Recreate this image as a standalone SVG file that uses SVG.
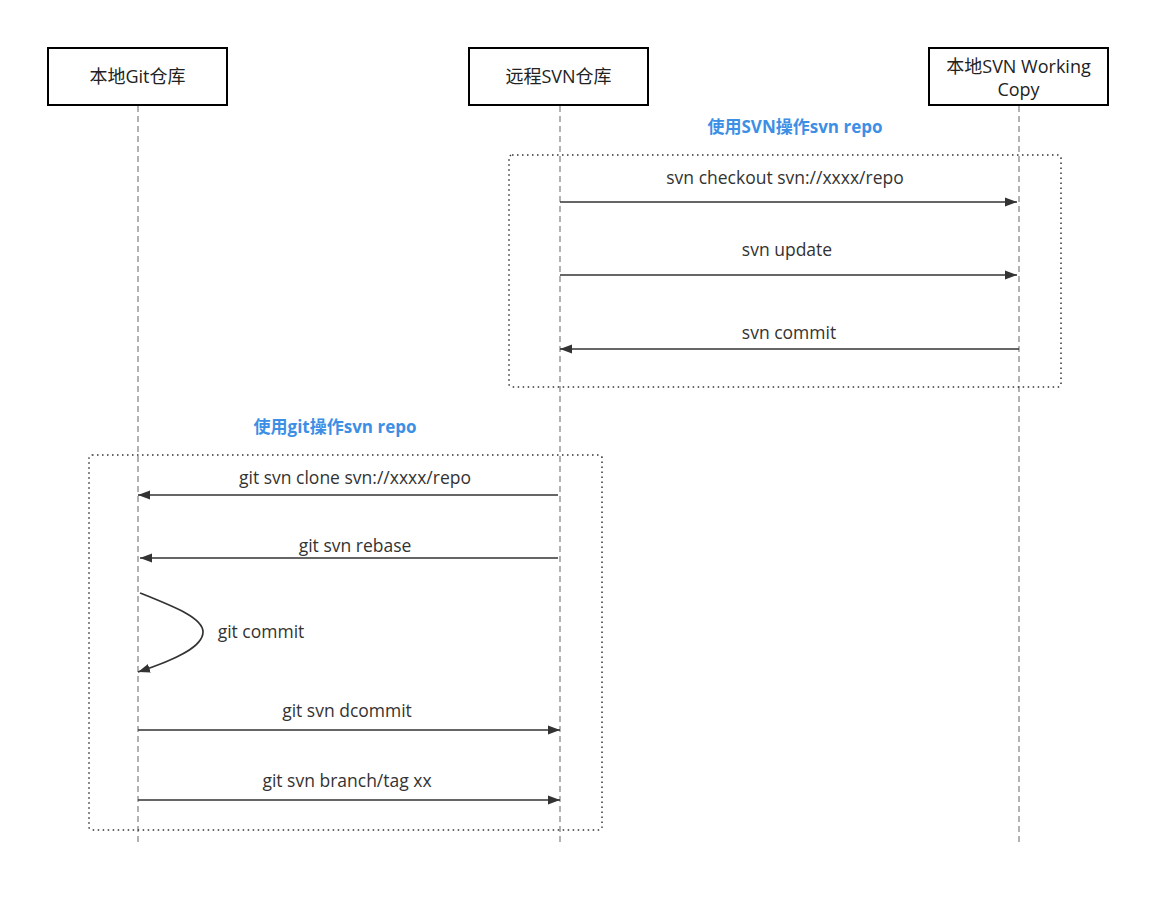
<svg xmlns="http://www.w3.org/2000/svg" width="1170" height="905" viewBox="0 0 1170 905">
<style>
.box{fill:#fff;stroke:#000;stroke-width:2}
.life{stroke:#999;stroke-width:1.5;stroke-dasharray:6 4;fill:none}
.frame{fill:none;stroke:#333;stroke-width:1.5;stroke-dasharray:1.5 3.5}
.msg{stroke:#333;stroke-width:1.7;fill:none}
.t{font-family:"Open Sans","Noto Sans CJK SC",sans-serif;font-size:17.5px;fill:#333;text-anchor:middle}
.n{font-family:"Open Sans","Noto Sans CJK SC",sans-serif;font-size:18px;fill:#222;text-anchor:middle}
.h{font-family:"Open Sans","Noto Sans CJK SC",sans-serif;font-size:17px;font-weight:bold;fill:#3d8fe5;text-anchor:middle}
</style>
<defs>
<marker id="arr" viewBox="0 0 12 10" refX="12" refY="5" markerWidth="12" markerHeight="10" markerUnits="userSpaceOnUse" orient="auto">
<path d="M0,0.5 L12,5 L0,9.5 Z" fill="#333"/>
</marker>
</defs>
<rect width="1170" height="905" fill="#fff"/>
<g id="lifelines">
<line class="life" x1="138" y1="106" x2="138" y2="842"/>
<line class="life" x1="560" y1="106" x2="560" y2="842"/>
<line class="life" x1="1019" y1="106" x2="1019" y2="842"/>
</g>
<g id="node-git">
<rect class="box" x="48" y="48" width="179" height="57"/>
<text class="n" x="137.5" y="83">本地Git仓库</text>
</g>
<g id="node-svn">
<rect class="box" x="469" y="48" width="179" height="57"/>
<text class="n" x="558.5" y="83">远程SVN仓库</text>
</g>
<g id="node-wc">
<rect class="box" x="929" y="48" width="179" height="57"/>
<text class="n" x="1018.5" y="73">本地SVN Working</text>
<text class="n" x="1018.5" y="96">Copy</text>
</g>
<g id="frames">
<rect class="frame" x="509" y="155" width="552" height="232" rx="3"/>
<text class="h" x="795" y="133">使用SVN操作svn repo</text>
<rect class="frame" x="89" y="455" width="513" height="375" rx="3"/>
<text class="h" x="335" y="433">使用git操作svn repo</text>
</g>
<g id="connectors">
<line class="msg" x1="560" y1="202" x2="1017" y2="202" marker-end="url(#arr)"/>
<text class="t" x="785" y="184">svn checkout svn://xxxx/repo</text>
<line class="msg" x1="560" y1="275" x2="1017" y2="275" marker-end="url(#arr)"/>
<text class="t" x="787" y="256">svn update</text>
<line class="msg" x1="1019" y1="349" x2="560" y2="349" marker-end="url(#arr)"/>
<text class="t" x="789" y="339">svn commit</text>
<line class="msg" x1="558" y1="495" x2="138" y2="495" marker-end="url(#arr)"/>
<text class="t" x="355" y="484">git svn clone svn://xxxx/repo</text>
<line class="msg" x1="558" y1="558" x2="140" y2="558" marker-end="url(#arr)"/>
<text class="t" x="355" y="552">git svn rebase</text>
<path class="msg" d="M140,593 C175,607 203,618 203,632 C203,647 175,660 138,672" marker-end="url(#arr)"/>
<text class="t" x="261" y="638">git commit</text>
<line class="msg" x1="138" y1="730" x2="560" y2="730" marker-end="url(#arr)"/>
<text class="t" x="347" y="717">git svn dcommit</text>
<line class="msg" x1="138" y1="800" x2="560" y2="800" marker-end="url(#arr)"/>
<text class="t" x="347" y="787">git svn branch/tag xx</text>
</g>
</svg>
